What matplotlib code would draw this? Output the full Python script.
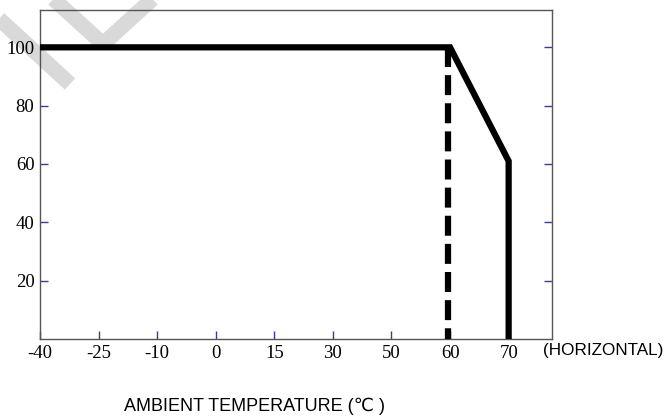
import matplotlib.pyplot as plt
from matplotlib.lines import Line2D

# categorical temperature axis (evenly spaced labels)
temps = ["-40", "-25", "-10", "0", "15", "30", "50", "60", "70"]
load_ticks = [20, 40, 60, 80, 100]

# derating curve: (temperature label, load %)
curve_t = ["-40", "60", "70", "70"]
curve_load = [100, 100, 61, 0]
# dashed line at 60C
dash_t = ["60", "60"]
dash_load = [100, 0]

pos = {t: i for i, t in enumerate(temps)}

fig = plt.figure(figsize=(6.64, 4.16), dpi=100)
W, H = 664, 416
ax = fig.add_axes([40 / W, (H - 339) / H, 512 / W, 329 / H])

# grey watermark strokes behind the chart
wm = "#d9d9d9"
for (x0, y0), (x1, y1) in [((-4, 16), (70, 84)), ((48, -6), (103, 44)), ((103, 44), (158, -6))]:
    fig.add_artist(Line2D([x0 / W, x1 / W], [1 - y0 / H, 1 - y1 / H],
                          transform=fig.transFigure, color=wm, lw=11,
                          solid_capstyle="butt", zorder=0))
ax.set_zorder(1)
ax.patch.set_alpha(0)

ax.plot([pos[t] for t in curve_t], curve_load, color="black", lw=4.5,
        solid_joinstyle="miter", zorder=3)
ax.plot([pos[t] - 0.04 for t in dash_t], dash_load, color="black", lw=4.5,
        dashes=(3.2, 1.3), zorder=3)

ax.set_xlim(0, 8.74)
ax.set_ylim(0, 112.8)
ax.set_xticks(range(len(temps)))
ax.set_xticklabels(temps, family="Liberation Serif", fontsize=13.5)
ax.set_yticks(load_ticks)
ax.set_yticklabels([str(v) for v in load_ticks], family="Liberation Serif", fontsize=13.5)
ax.tick_params(direction="in", length=6, width=1, color="#3b3b9a",
               left=True, right=True, bottom=True, top=False, pad=4)
for s in ax.spines.values():
    s.set_color("#555555")
    s.set_linewidth(1)

fig.text(543 / W, 1 - 351 / H, "(HORIZONTAL)", family="Liberation Sans",
         fontsize=12.3, va="center", ha="left")
fig.text(255 / W, 1 - 406 / H, "AMBIENT TEMPERATURE (\u2103 )",
         family=["Liberation Sans", "DejaVu Sans"], fontsize=13,
         va="center", ha="center")

fig.savefig("out.png", dpi=100)
